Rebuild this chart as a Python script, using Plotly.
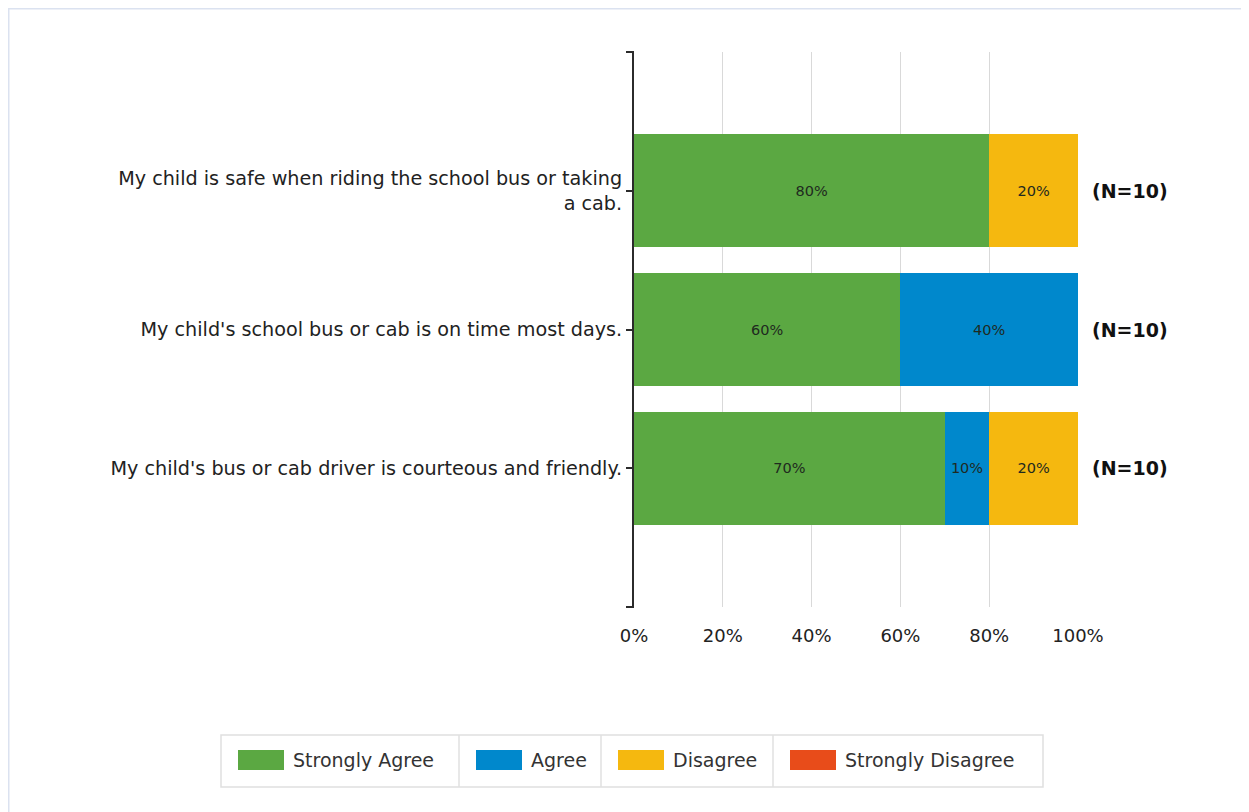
import plotly.graph_objects as go

categories = [
    "My child is safe when riding the school bus or taking<br>a cab.",
    "My child's school bus or cab is on time most days.",
    "My child's bus or cab driver is courteous and friendly.",
]
n_labels = ["(N=10)", "(N=10)", "(N=10)"]
series_names = ["Strongly Agree", "Agree", "Disagree", "Strongly Disagree"]
series_values = [
    [80, 60, 70],
    [0, 40, 10],
    [20, 0, 20],
    [0, 0, 0],
]
colors = ["#5BA842", "#0088CC", "#F5B80F", "#E84C1A"]
x_ticks = [0, 20, 40, 60, 80, 100]
x_ticktext = ["0%", "20%", "40%", "60%", "80%", "100%"]

FONT = "DejaVu Sans"
OFF = 8  # body margin of the html page
W, H = 1249 - OFF, 812 - OFF
# plot area in page pixels
L, R, T, B = 634, 1078, 52, 607

def px(x):
    return (x - L) / (R - L)

def py(y):
    return (B - y) / (B - T)

ypos = [2, 1, 0]

fig = go.Figure()
for name, vals, col in zip(series_names, series_values, colors):
    fig.add_trace(go.Bar(
        y=ypos, x=vals, name=name, orientation="h",
        marker=dict(color=col, line=dict(width=0)),
        width=0.815,
        text=[f"{v}%" if v > 0 else "" for v in vals],
        textposition="inside", insidetextanchor="middle",
        textfont=dict(family=FONT, size=14.5, color="#1f2a1f"),
        hoverinfo="skip", showlegend=False,
    ))

for yv, lab in zip(ypos, n_labels):
    fig.add_annotation(x=1.0, xref="paper", y=yv, yref="y", text=f"<b>{lab}</b>",
                       showarrow=False, xanchor="left", xshift=12,
                       font=dict(family=FONT, size=19, color="#111111"))

shapes = [
    # page frame (visible parts)
    dict(type="rect", xref="paper", yref="paper", x0=px(OFF), x1=px(W + OFF), y0=py(OFF), y1=py(OFF + 1.5),
         fillcolor="#dbe2f0", line=dict(width=0), layer="below"),
    dict(type="rect", xref="paper", yref="paper", x0=px(OFF), x1=px(OFF + 1.5), y0=py(OFF), y1=py(H + OFF),
         fillcolor="#dbe2f0", line=dict(width=0), layer="below"),
    # axis caps
    dict(type="line", xref="paper", yref="paper", x0=px(626), x1=px(634), y0=1, y1=1,
         line=dict(color="#2b2b2b", width=2)),
    dict(type="line", xref="paper", yref="paper", x0=px(626), x1=px(634), y0=0, y1=0,
         line=dict(color="#2b2b2b", width=2)),
]

# legend (drawn as a boxed strip like the original)
leg_top, leg_bot = 735, 787
leg_cells = [(221, 459), (459, 601), (601, 773), (773, 1043)]
shapes.append(dict(type="rect", xref="paper", yref="paper", x0=px(leg_cells[0][0]), x1=px(leg_cells[-1][1]),
                   y0=py(leg_bot), y1=py(leg_top), line=dict(color="#e0e0e0", width=1.5),
                   fillcolor="white"))
for (c0, c1) in leg_cells[1:]:
    shapes.append(dict(type="line", xref="paper", yref="paper", x0=px(c0), x1=px(c0),
                       y0=py(leg_bot), y1=py(leg_top), line=dict(color="#e0e0e0", width=1.5)))
for (c0, c1), name, col in zip(leg_cells, series_names, colors):
    sx0 = c0 + 17
    shapes.append(dict(type="rect", xref="paper", yref="paper", x0=px(sx0), x1=px(sx0 + 46),
                       y0=py(770), y1=py(750), fillcolor=col, line=dict(width=0)))
    fig.add_annotation(x=px(sx0 + 53), xref="paper", y=py(760), yref="paper", text=name,
                       showarrow=False, xanchor="left", yanchor="middle",
                       font=dict(family=FONT, size=19, color="#333333"))

fig.update_layout(
    width=W, height=H,
    margin=dict(l=L - OFF, r=W - (R - OFF), t=T - OFF, b=H - (B - OFF)),
    barmode="stack",
    plot_bgcolor="white", paper_bgcolor="white",
    font=dict(family=FONT, color="#222222"),
    xaxis=dict(range=[0, 100], tickvals=x_ticks, ticktext=x_ticktext,
               showgrid=True, gridcolor="#d9d9d9", gridwidth=1, zeroline=False,
               showline=False, ticks="", ticklabelstandoff=16,
               tickfont=dict(family=FONT, size=18, color="#222222"),
               fixedrange=True),
    yaxis=dict(range=[-1, 3], tickvals=ypos, ticktext=categories,
               showgrid=False, zeroline=False, showline=True, linecolor="#2b2b2b", linewidth=2,
               ticks="outside", ticklen=6, tickcolor="#2b2b2b", tickwidth=1.5,
               tickfont=dict(family=FONT, size=19.2, color="#222222"), fixedrange=True),
    shapes=shapes,
    showlegend=False,
)

fig.write_html("out.html")
